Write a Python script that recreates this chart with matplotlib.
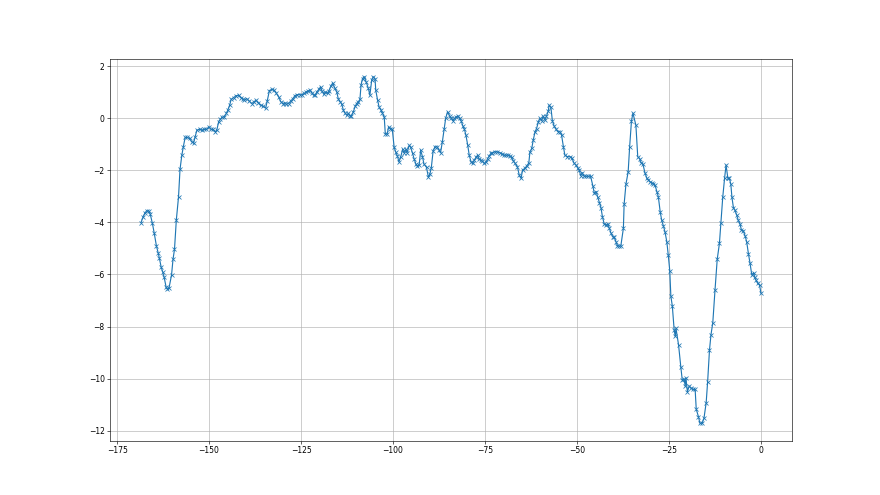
import matplotlib
matplotlib.use("Agg")
import matplotlib.pyplot as plt

x_vals = [
    -168.5, -167.9, -167.4, -166.9, -166.4, -166.0, -165.4, -164.9, -164.3, -163.8,
    -163.5, -163.0, -162.6, -162.2, -161.7, -161.3, -160.9, -160.2, -159.8, -159.4,
    -158.9, -158.3,
    -157.9, -157.4, -157.0, -156.5, -155.9, -155.3, -154.7, -154.2, -153.8, -153.3,
    -152.6, -152.0, -151.3, -150.7, -150.0, -149.5, -149.0, -148.3, -147.9, -147.4,
    -147.0, -146.5, -145.9, -145.3, -144.9, -144.4, -144.0, -143.3, -142.7, -142.0,
    -141.4, -140.9, -140.4, -139.8, -139.1, -138.4, -137.8, -137.2, -136.6, -136.0,
    -135.3, -134.6, -134.2,
    -133.6, -133.0, -132.3, -131.8, -131.1, -130.5, -129.9, -129.5, -129.0, -128.4,
    -127.8, -127.2, -126.7, -126.1, -125.4, -124.8, -124.1, -123.6, -123.0, -122.5,
    -122.1, -121.6, -121.2, -120.7, -120.2, -119.7, -119.3, -118.8, -118.4, -117.8,
    -117.4, -116.9, -116.4, -115.8, -115.3, -114.9, -114.4, -114.0, -113.5, -113.1,
    -112.6, -112.2, -111.7, -111.3, -110.8, -110.3, -109.9, -109.4, -109.0,
    -108.7, -108.3, -107.8, -107.3, -106.7, -106.3, -105.8, -105.4, -104.9, -104.7,
    -104.2, -103.8, -103.3, -102.9, -102.4, -102.1, -101.6, -101.2, -100.7, -100.2,
    -99.7, -99.3, -98.8, -98.4, -97.9, -97.4, -97.0, -96.5, -96.2, -95.6,
    -95.2, -94.7, -94.3, -93.8, -93.4, -92.9, -92.5, -92.0, -91.6, -90.9,
    -90.4, -90.0, -89.6, -89.1, -88.6, -88.0, -87.5,
    -87.1, -86.6, -86.1, -85.7, -85.2, -84.6, -84.2, -83.7, -83.3, -82.8,
    -82.4, -81.9, -81.5, -81.0, -80.6, -80.2, -79.7, -79.3, -78.8, -78.4,
    -77.9, -77.5, -77.0, -76.6, -76.1, -75.7, -75.2, -74.7, -74.3, -73.9,
    -73.4, -73.0, -72.3, -71.7, -70.9, -70.3, -69.8, -69.3, -68.7, -68.2,
    -67.8, -67.3, -66.8, -66.2, -65.7, -65.2, -64.8, -64.2, -63.7, -63.1,
    -62.8,
    -62.3, -61.9, -61.4, -61.0, -60.5, -60.1, -59.6, -59.2, -58.7, -58.3,
    -57.8, -57.6, -57.1, -56.7, -56.2, -55.7, -55.1, -54.6, -54.2, -53.7,
    -53.3, -52.6, -51.9, -51.4, -50.8, -50.3, -49.8, -49.4, -49.0, -48.6,
    -48.1, -47.6, -46.9, -46.3, -45.7,
    -45.3, -44.8, -44.4, -43.9, -43.5, -43.1, -42.6, -42.2, -41.6, -41.2,
    -40.8, -40.3, -39.9, -39.4, -39.0, -38.5, -38.1, -37.4, -37.2, -36.7,
    -36.1, -35.7, -35.2, -34.8, -34.0, -33.5, -33.0, -32.6, -32.1, -31.5,
    -31.0, -30.6, -30.2, -29.7, -29.3, -28.8, -28.3, -27.9, -27.4, -27.0,
    -26.5, -26.1, -25.6, -25.2, -24.8, -24.5, -24.1, -23.6, -23.3, -23.1,
    -22.4, -21.8, -21.4, -20.9, -20.6, -20.4, -20.0, -19.5, -19.0, -18.6,
    -17.9, -17.6, -17.0, -16.6, -16.0, -15.5, -14.9, -14.5, -14.0, -13.6,
    -13.1, -12.5, -11.9, -11.3, -10.9, -10.4, -9.9, -9.5, -9.0, -8.6,
    -8.2, -7.9, -7.5, -7.1, -6.6, -6.2, -5.7, -5.3, -4.8, -4.3,
    -3.9, -3.4, -3.0, -2.5, -2.0, -1.7, -1.4, -0.9, -0.4, 0.0,
]

y_vals = [
    -4.01, -3.78, -3.63, -3.55, -3.56, -3.68, -4.04, -4.42, -4.91, -5.19,
    -5.38, -5.73, -5.90, -6.11, -6.47, -6.56, -6.53, -6.02, -5.42, -5.04,
    -3.91, -3.02,
    -1.97, -1.42, -1.10, -0.74, -0.74, -0.78, -0.91, -0.95, -0.72, -0.46,
    -0.43, -0.46, -0.43, -0.43, -0.33, -0.43, -0.43, -0.52, -0.46, -0.14,
    -0.05, 0.03, 0.05, 0.18, 0.31, 0.50, 0.72, 0.79, 0.86, 0.88,
    0.79, 0.75, 0.69, 0.75, 0.66, 0.56, 0.63, 0.69, 0.59, 0.50,
    0.46, 0.39, 0.66,
    1.06, 1.10, 1.07, 0.97, 0.82, 0.63, 0.56, 0.59, 0.53, 0.56,
    0.66, 0.75, 0.86, 0.90, 0.90, 0.90, 0.95, 1.01, 1.05, 1.07,
    0.97, 0.88, 0.88, 1.01, 1.10, 1.20, 1.04, 0.92, 1.01, 0.95,
    1.05, 1.23, 1.35, 1.14, 1.01, 0.75, 0.63, 0.56, 0.31, 0.20,
    0.12, 0.18, 0.08, 0.10, 0.24, 0.45, 0.56, 0.63, 0.72,
    1.27, 1.52, 1.59, 1.39, 1.14, 0.88, 1.46, 1.59, 1.52, 1.07,
    0.69, 0.43, 0.31, 0.20, 0.05, -0.61, -0.61, -0.33, -0.40, -0.43,
    -1.12, -1.29, -1.46, -1.68, -1.48, -1.20, -1.33, -1.20, -1.33, -1.04,
    -1.12, -1.35, -1.55, -1.76, -1.84, -1.80, -1.23, -1.48, -1.76, -1.89,
    -2.27, -2.15, -1.90, -1.25, -1.10, -1.10, -1.23,
    -1.33, -0.91, -0.40, -0.01, 0.24, 0.08, -0.01, -0.10, -0.01, 0.05,
    0.08, -0.01, -0.10, -0.31, -0.43, -0.65, -1.04, -1.42, -1.68, -1.74,
    -1.61, -1.51, -1.42, -1.58, -1.61, -1.65, -1.74, -1.68, -1.55, -1.46,
    -1.35, -1.33, -1.29, -1.29, -1.33, -1.38, -1.42, -1.42, -1.42, -1.46,
    -1.51, -1.64, -1.74, -1.87, -2.19, -2.31, -1.99, -1.93, -1.84, -1.72,
    -1.30,
    -1.16, -0.84, -0.52, -0.40, -0.14, -0.01, -0.10, 0.08, -0.08, 0.08,
    0.28, 0.50, 0.41, -0.10, -0.31, -0.43, -0.52, -0.52, -0.65, -1.10,
    -1.42, -1.48, -1.48, -1.53, -1.73, -1.80, -1.91, -2.00, -2.21, -2.09,
    -2.23, -2.23, -2.23, -2.23, -2.60,
    -2.89, -2.82, -3.02, -3.25, -3.43, -3.78, -4.07, -4.10, -4.07, -4.23,
    -4.40, -4.55, -4.58, -4.74, -4.91, -4.91, -4.91, -4.23, -3.30, -2.53,
    -2.06, -1.10, -0.10, 0.19, -0.27, -1.48, -1.55, -1.71, -1.76, -2.12,
    -2.31, -2.37, -2.44, -2.48, -2.51, -2.57, -2.82, -3.02, -3.59, -3.91,
    -4.15, -4.36, -4.74, -5.26, -5.85, -6.83, -7.21, -8.13, -8.38, -8.07,
    -8.71, -9.54, -10.05, -10.02, -10.28, -9.99, -10.50, -10.28, -10.37, -10.41,
    -10.41, -11.17, -11.46, -11.71, -11.71, -11.52, -10.92, -10.11, -8.90, -8.32,
    -7.85, -6.60, -5.42, -4.81, -4.04, -3.04, -2.31, -1.80, -2.31, -2.31,
    -2.53, -3.04, -3.43, -3.53, -3.72, -3.91, -4.07, -4.30, -4.32, -4.53,
    -4.74, -5.22, -5.55, -6.02, -5.93, -6.11, -6.21, -6.34, -6.41, -6.72,
]

fig, ax = plt.subplots(figsize=(16, 9), dpi=55)
ax.plot(x_vals, y_vals, marker='x', color='#1f77b4', linewidth=1.5, markersize=6)
ax.grid(True)
fig.savefig("out.png", dpi=55)
